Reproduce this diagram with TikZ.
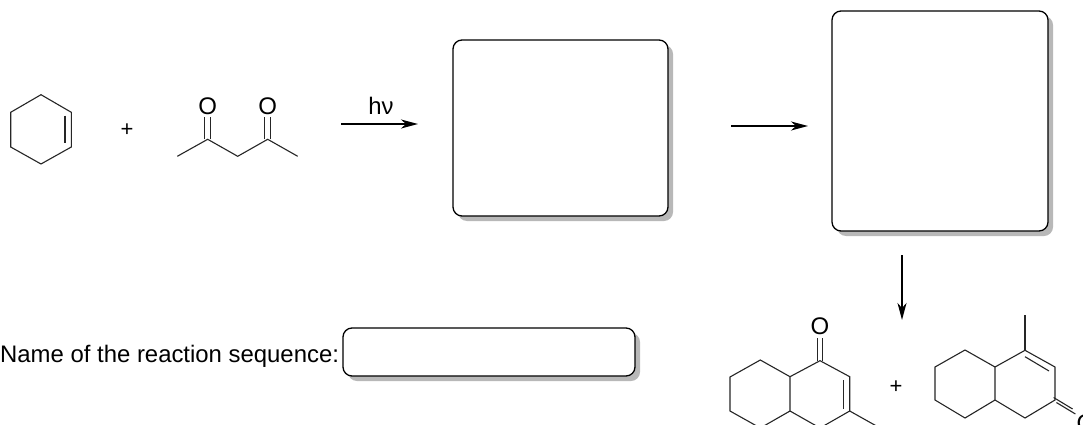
\documentclass[tikz,border=0pt]{standalone}
\usepackage{fontspec}
\setmainfont{Liberation Sans}
\usetikzlibrary{arrows.meta}
\tikzset{
  x=1pt,y=-1pt,
  bond/.style={draw=black!85,line width=1.1pt,line join=miter},
  rxn/.style={draw=black,line width=1.5pt,-{Stealth[length=17pt,width=9pt,inset=5pt]}},
  answer/.style={draw=black,line width=1.3pt,rounded corners=9pt,fill=white},
  shade/.style={fill=black!28,rounded corners=9pt,draw=none},
  atom/.style={inner sep=0pt,font=\fontsize{24}{24}\selectfont},
  plus/.style={inner sep=0pt,font=\fontsize{22}{22}\selectfont},
  lab/.style={inner sep=0pt,font=\fontsize{23.9}{26}\selectfont}
}
\newcommand{\answerbox}[5]{%
  \fill[shade] (#2+5,#3+5) rectangle (#4+5,#5+5);
  \path[answer] (#2,#3) rectangle (#4,#5);
  \coordinate (#1) at ({(#2+#4)/2},{(#3+#5)/2});
}
\begin{document}
\begin{tikzpicture}
\useasboundingbox (0,0) rectangle (1083,425);
\fill[white] (0,0) rectangle (1083,425);
% cyclohexene
\coordinate (a1) at (41,94.7);
\coordinate (a2) at (71.3,112.3);
\coordinate (a3) at (71.3,147);
\coordinate (a4) at (41,164);
\coordinate (a5) at (10.7,147);
\coordinate (a6) at (10.7,112.3);
\coordinate (a7) at (65,115.7);
\coordinate (a8) at (65,142.5);
\draw[bond] (a1)--(a2)--(a3)--(a4)--(a5)--(a6)--cycle;
\draw[bond] (a7)--(a8);
\node[plus] (p1) at (127,130) {+};
% pentanedione
\coordinate (b1) at (177.3,156.3);
\coordinate (b2) at (207.7,139.3);
\coordinate (b3) at (237.7,156.3);
\coordinate (b4) at (267.7,139.3);
\coordinate (b5) at (297.7,156.3);
\node[atom] (o1) at (207.7,106) {O};
\node[atom] (o2) at (267.7,106) {O};
\draw[bond] (b1)--(b2)--(b3)--(b4)--(b5);
\draw[bond] ([xshift=-2.8pt]b2)--([xshift=-2.8pt]207.7,117.5);
\draw[bond] ([xshift=2.8pt]b2)--([xshift=2.8pt]207.7,117.5);
\draw[bond] ([xshift=-2.8pt]b4)--([xshift=-2.8pt]267.7,117.5);
\draw[bond] ([xshift=2.8pt]b4)--([xshift=2.8pt]267.7,117.5);
% arrows and boxes
\answerbox{boxa}{453}{40}{668}{216}
\answerbox{boxb}{832}{11}{1048}{231}
\answerbox{boxc}{343}{328}{635}{376}
\coordinate (r1s) at (341,124);
\coordinate (r1e) at (418,124);
\coordinate (r2s) at (731,126);
\coordinate (r2e) at (808,126);
\coordinate (r3s) at (902,255);
\coordinate (r3e) at (902,320);
\draw[rxn] (r1s)--(r1e);
\draw[rxn] (r2s)--(r2e);
\draw[rxn] (r3s)--(r3e);
\node[lab] (hv) at (381,106) {hν};
\node[lab,anchor=west] (name) at (0,356) {Name of the reaction sequence:};
% product 1
\coordinate (c1) at (820,360.7);
\coordinate (c2) at (849.7,376.7);
\coordinate (c3) at (849.7,411);
\coordinate (c4) at (820,428);
\coordinate (c5) at (790,411);
\coordinate (c6) at (790,376.7);
\coordinate (c7) at (760.3,360);
\coordinate (c8) at (730,377);
\coordinate (c9) at (730,411);
\coordinate (c10) at (760.3,428);
\coordinate (c11) at (880,428);
\coordinate (c12) at (843.3,380);
\coordinate (c13) at (843.3,409);
\node[atom] (o3) at (820,326.7) {O};
\draw[bond] (c1)--(c2)--(c3)--(c4)--(c5)--(c6)--cycle;
\draw[bond] (c6)--(c7)--(c8)--(c9)--(c10)--(c5);
\draw[bond] (c3)--(c11);
\draw[bond] (c12)--(c13);
\draw[bond] ([xshift=-2.8pt]c1)--([xshift=-2.8pt]820,338);
\draw[bond] ([xshift=2.8pt]c1)--([xshift=2.8pt]820,338);
\node[plus] (p2) at (896,387) {+};
% product 2
\coordinate (d0) at (1025,315);
\coordinate (d1) at (1025,350.3);
\coordinate (d2) at (1055,367);
\coordinate (d3) at (1055,400);
\coordinate (d4) at (1025,418);
\coordinate (d5) at (995,400);
\coordinate (d6) at (995,367);
\coordinate (d7) at (965,350);
\coordinate (d8) at (935,367);
\coordinate (d9) at (935,400);
\coordinate (d10) at (965,418);
\coordinate (d11) at (1025,356.7);
\coordinate (d12) at (1049,371);
\node[atom] (o4) at (1086,423) {O};
\draw[bond] (d1)--(d2)--(d3)--(d4)--(d5)--(d6)--cycle;
\draw[bond] (d6)--(d7)--(d8)--(d9)--(d10)--(d5);
\draw[bond] (d0)--(d1);
\draw[bond] (d11)--(d12);
\draw[bond] ([xshift=1.4pt,yshift=-2.5pt]d3)--([xshift=1.4pt,yshift=-2.5pt]1074,411.5);
\draw[bond] ([xshift=-1.4pt,yshift=2.5pt]d3)--([xshift=-1.4pt,yshift=2.5pt]1074,411.5);
\end{tikzpicture}
\end{document}
